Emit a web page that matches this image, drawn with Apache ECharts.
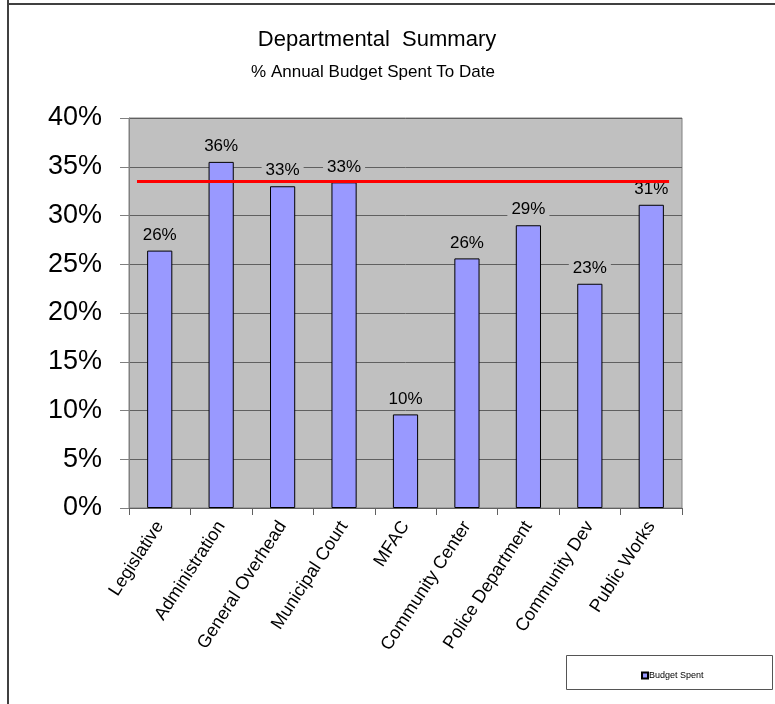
<!DOCTYPE html>
<html>
<head>
<meta charset="utf-8">
<script src="https://cdn.jsdelivr.net/npm/echarts@6/dist/echarts.min.js"></script>
<style>
html,body{margin:0;padding:0;background:#fff;}
#chart{width:775px;height:704px;}
</style>
</head>
<body>
<div id="chart"></div>
<script>
const categories = ['Legislative','Administration','General Overhead','Municipal Court','MFAC','Community Center','Police Department','Community Dev','Public Works'];
const budgetSpent = [26.4, 35.5, 33.0, 33.4, 9.6, 25.6, 29.0, 23.0, 31.1];
const targetLevel = 33.5;
const targetSpan = [-0.37, 8.29];
const yTicks = {min: 0, max: 40, interval: 5};

const chart = echarts.init(document.getElementById('chart'), null, {renderer: 'canvas'});
const font = 'Liberation Sans, Arial, sans-serif';

chart.setOption({
  backgroundColor: '#ffffff',
  animation: false,
  graphic: [
    {type: 'line', shape: {x1: 8, y1: 0, x2: 8, y2: 704}, style: {stroke: '#404040', lineWidth: 2}},
    {type: 'line', shape: {x1: 8, y1: 4, x2: 775, y2: 4}, style: {stroke: '#404040', lineWidth: 2}},
    {type: 'text', x: 377, y: 40, style: {text: 'Departmental  Summary', font: 'normal 22px ' + font, fill: '#000', textAlign: 'center', textVerticalAlign: 'middle'}},
    {type: 'text', x: 373, y: 72, style: {text: '% Annual Budget Spent To Date', font: 'normal 17px ' + font, fill: '#000', textAlign: 'center', textVerticalAlign: 'middle'}},
    {type: 'rect', shape: {x: 566.5, y: 655.5, width: 206, height: 34}, style: {fill: '#fff', stroke: '#555', lineWidth: 1}, z: 0}
  ],
  legend: {
    data: ['Budget Spent'],
    left: 636, top: 666,
    icon: 'rect', itemWidth: 6, itemHeight: 6, itemGap: 2,
    textStyle: {fontFamily: font, fontSize: 9, color: '#000', padding: [0, 0, 0, -4]},
    z: 5
  },
  grid: {left: 129, right: 93, top: 118, bottom: 196, show: true, backgroundColor: '#C0C0C0', borderColor: '#808080', borderWidth: 1},
  xAxis: [
    {
      type: 'category', data: categories,
      axisLine: {onZero: false, lineStyle: {color: '#606060', width: 1}},
      axisTick: {show: true, length: 7, lineStyle: {color: '#606060'}},
      axisLabel: {rotate: 57, margin: 15, fontFamily: font, fontSize: 18, color: '#000', interval: 0}
    },
    {
      type: 'value', min: -0.5, max: 8.5, show: false,
      axisLine: {show: false, onZero: false}, axisTick: {show: false}, axisLabel: {show: false}, splitLine: {show: false}
    }
  ],
  yAxis: {
    type: 'value', min: yTicks.min, max: yTicks.max, interval: yTicks.interval,
    axisLine: {show: true, onZero: false, lineStyle: {color: '#808080'}},
    axisTick: {show: true, length: 9, lineStyle: {color: '#808080'}},
    axisLabel: {formatter: '{value}%', fontFamily: font, fontSize: 27, color: '#000', margin: 27},
    splitLine: {show: true, lineStyle: {color: '#606060', width: 1}}
  },
  series: [
    {
      name: 'Budget Spent', type: 'bar', xAxisIndex: 0, data: budgetSpent,
      barWidth: '41%',
      itemStyle: {color: '#9999FF', borderColor: '#000', borderWidth: 1},
      label: {
        show: true, position: 'top', distance: 6,
        formatter: p => Math.round(p.value) + '%',
        fontFamily: font, fontSize: 17, color: '#000',
        backgroundColor: '#C0C0C0', padding: [1, 4]
      },
      z: 2
    },
    {
      name: 'Target', type: 'line', xAxisIndex: 1,
      data: [[targetSpan[0], targetLevel], [targetSpan[1], targetLevel]],
      symbol: 'none', lineStyle: {color: '#FF0000', width: 3},
      z: 10, silent: true
    }
  ]
});
</script>
</body>
</html>
